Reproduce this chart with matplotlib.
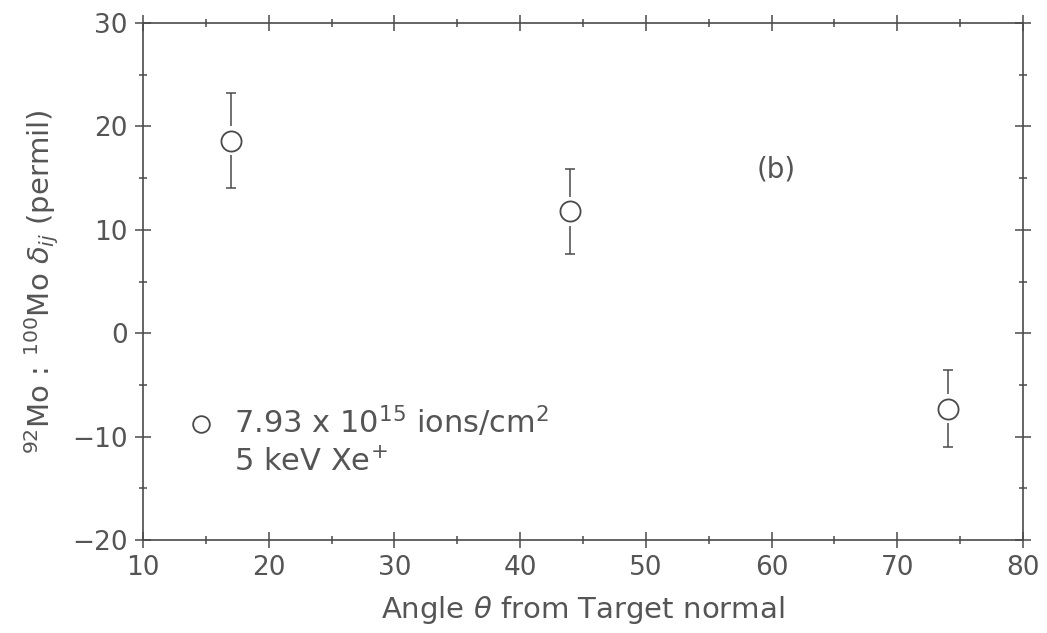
import numpy as np
import matplotlib
matplotlib.use("Agg")
import matplotlib.pyplot as plt
from matplotlib.ticker import MultipleLocator

# values
angle = np.array([17, 44, 74])
delta = np.array([18.6, 11.8, -7.3])
err = np.array([4.6, 4.1, 3.7])

ink = "#4a4a4a"
txt = "#555555"
plt.rcParams["font.family"] = "DejaVu Sans"
plt.rcParams["mathtext.fontset"] = "dejavusans"

fig = plt.figure(figsize=(10.47, 6.33), dpi=100)
ax = fig.add_axes([143 / 1047, 1 - 540 / 633, (1023 - 143) / 1047, (540 - 23) / 633])

# error bars leave a small gap around the open circle
gap = 1.4
ax.vlines(angle, delta + gap, delta + err, color=ink, lw=1.1)
ax.vlines(angle, delta - err, delta - gap, color=ink, lw=1.1)
ax.errorbar(angle, delta, yerr=err, fmt="none", ecolor=ink, elinewidth=0,
            capsize=3.3, capthick=1.1)
ax.plot(angle, delta, "o", ms=14.5, mfc="none", mec=ink, mew=1.3)

ax.set_xlim(10, 80)
ax.set_ylim(-20, 30)
ax.xaxis.set_major_locator(MultipleLocator(10))
ax.xaxis.set_minor_locator(MultipleLocator(5))
ax.yaxis.set_major_locator(MultipleLocator(10))
ax.yaxis.set_minor_locator(MultipleLocator(5))
ax.tick_params(which="both", direction="inout", top=True, right=True,
               color=ink, width=1.1, labelsize=19, labelcolor=txt)
ax.tick_params(which="major", length=12, pad=5)
ax.tick_params(which="minor", length=6)
for s in ax.spines.values():
    s.set_color(ink)
    s.set_linewidth(1.2)

ax.set_xlabel(r"Angle $\theta$ from Target normal", fontsize=21, color=txt, labelpad=9)
ax.set_ylabel(r"$^{92}$Mo : $^{100}$Mo $\delta_{ij}$ (permil)", fontsize=21,
              color=txt, labelpad=8)

ax.text(60.4, 15.8, "(b)", fontsize=20, color=txt, ha="center", va="center")

# key inside the plot
ax.plot([14.6], [-8.8], "o", ms=12, mfc="none", mec=ink, mew=1.3)
ax.text(17.2, -8.6, r"7.93 x 10$^{15}$ ions/cm$^{2}$", fontsize=22, color=txt,
        ha="left", va="center")
ax.text(17.2, -12.5, r"5 keV Xe$^{+}$", fontsize=22, color=txt,
        ha="left", va="center")

fig.savefig("out.png", dpi=100)
